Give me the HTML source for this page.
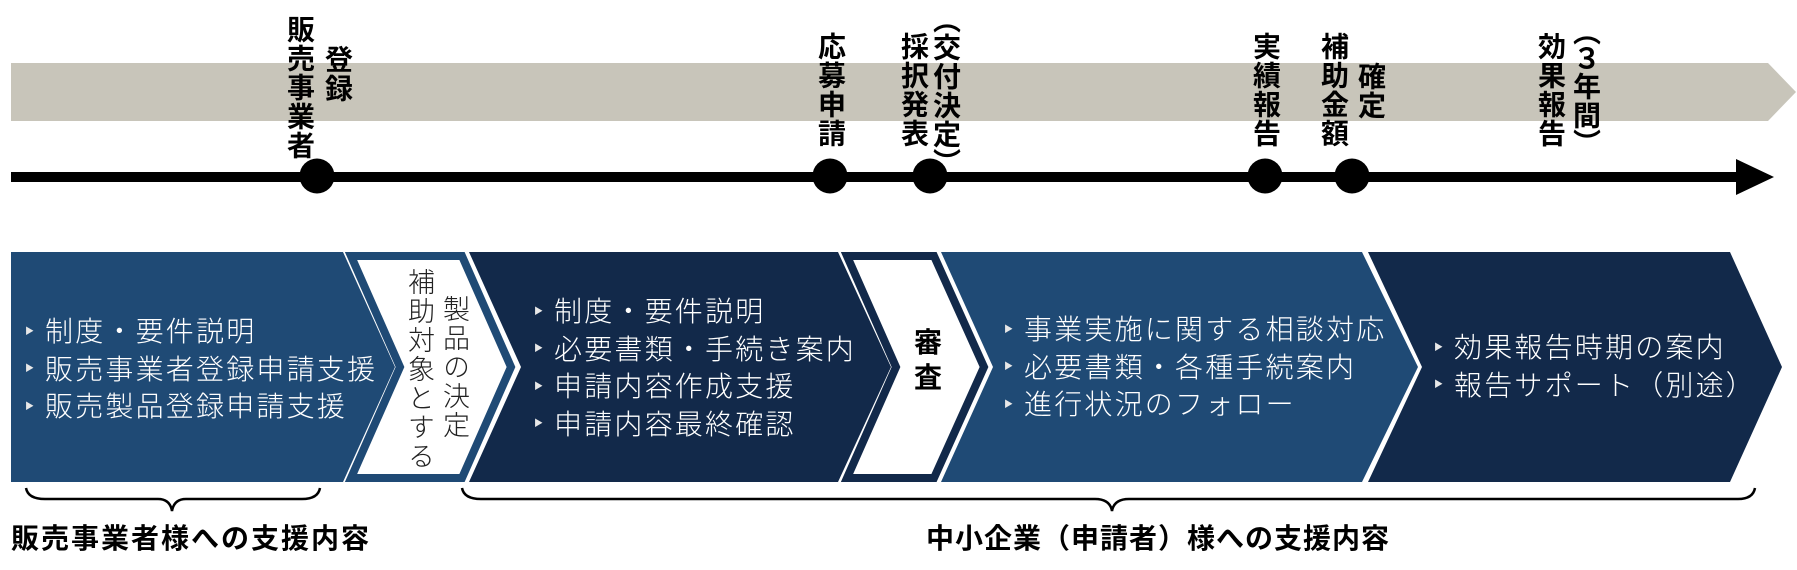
<!DOCTYPE html>
<html><head><meta charset="utf-8"><style>
body{margin:0;width:1797px;height:570px;background:#fff;position:relative;overflow:hidden;font-family:"Liberation Sans","Noto Sans CJK JP",sans-serif}
.v{position:absolute;writing-mode:vertical-rl;font-size:28px;font-weight:bold;line-height:28px;width:28px;letter-spacing:1px;color:#000;font-feature-settings:"vpal";white-space:nowrap}
.vl{position:absolute;writing-mode:vertical-rl;font-size:27px;font-weight:300;line-height:27px;width:27px;letter-spacing:2px;color:#222;white-space:nowrap}
.b{position:absolute;color:#fff;font-size:28px;font-weight:300;line-height:36px;letter-spacing:2.2px;white-space:nowrap}
.b span{font-size:9px;display:inline-block;width:20px;vertical-align:middle;position:relative;top:-3px;letter-spacing:0;color:#e8e8e8}
.lab{position:absolute;font-size:28px;font-weight:bold;letter-spacing:2px;top:522px;line-height:34px;white-space:nowrap}
</style></head><body>
<svg width="1797" height="570" style="position:absolute;left:0;top:0">
<polygon points="11,63 1768,63 1796,92 1768,121 11,121" fill="#c8c5ba"/>
<rect x="11" y="172" width="1730" height="10" fill="#000"/>
<polygon points="1736,159 1774,177 1736,195" fill="#000"/>
<g fill="#000"><circle cx="317" cy="176" r="17.5"/><circle cx="830" cy="176" r="17.5"/><circle cx="930" cy="176" r="17.5"/><circle cx="1265" cy="176" r="17.5"/><circle cx="1352" cy="176" r="17.5"/></g>
<polygon points="11,252 343,252 395,367 343,482 11,482" fill="#1f4a75"/>
<polygon points="351,256 462,256 511,367 462,478 351,478 400,367" fill="#fff" stroke="#1f4a75" stroke-width="8" stroke-linejoin="miter"/>
<polygon points="469,252 838,252 891,367 838,482 469,482 521,367" fill="#12294a"/>
<polygon points="847,256 934,256 984,367 934,478 847,478 896,367" fill="#fff" stroke="#12294a" stroke-width="8"/>
<polygon points="941,252 1362,252 1418,367 1362,482 941,482 993,367" fill="#1f4a75"/>
<polygon points="1368,252 1730,252 1782,367 1730,482 1368,482 1422,367" fill="#12294a"/>
<g fill="none" stroke="#000" stroke-width="2.5">
<path d="M26,488 Q28,499 45,499 L158,499 Q170,499 172,511 Q174,499 186,499 L302,499 Q318,499 320,488"/>
<path d="M462,488 Q464,499 481,499 L1095,499 Q1110,499 1112,511 Q1114,499 1129,499 L1738,499 Q1753,499 1755,488"/>
</g>
</svg>
<div class="v" style="left:285px;top:15px">販売事業者</div>
<div class="v" style="left:323px;top:45px">登録</div>
<div class="v" style="left:816px;top:32px">応募申請</div>
<div class="v" style="left:899px;top:32px">採択発表</div>
<div class="v" style="left:931px;top:18px">（交付決定）</div>
<div class="v" style="left:1251px;top:32px">実績報告</div>
<div class="v" style="left:1319px;top:32px">補助金額</div>
<div class="v" style="left:1356px;top:62px">確定</div>
<div class="v" style="left:1536px;top:32px">効果報告</div>
<div class="v" style="left:1571px;top:30px">（３年間）</div>
<div class="vl" style="left:405px;top:268px">補助対象とする</div>
<div class="vl" style="left:440px;top:295px">製品の決定</div>
<div style="position:absolute;left:914px;top:325px;font-size:28px;font-weight:bold;line-height:35px;width:30px">審<br>査</div>
<div class="b" style="left:25px;top:314px"><span>▶</span>制度・要件説明<br><span>▶</span>販売事業者登録申請支援<br><span>▶</span>販売製品登録申請支援</div>
<div class="b" style="left:534px;top:294px"><span>▶</span>制度・要件説明<br><span>▶</span>必要書類・手続き案内<br><span>▶</span>申請内容作成支援<br><span>▶</span>申請内容最終確認</div>
<div class="b" style="left:1004px;top:312px"><span>▶</span>事業実施に関する相談対応<br><span>▶</span>必要書類・各種手続案内<br><span>▶</span>進行状況のフォロー</div>
<div class="b" style="left:1434px;top:330px"><span>▶</span>効果報告時期の案内<br><span>▶</span>報告サポート（別途）</div>
<div class="lab" style="left:11px">販売事業者様への支援内容</div>
<div class="lab" style="left:926px;letter-spacing:1px">中小企業（申請者）様への支援内容</div>
</body></html>
